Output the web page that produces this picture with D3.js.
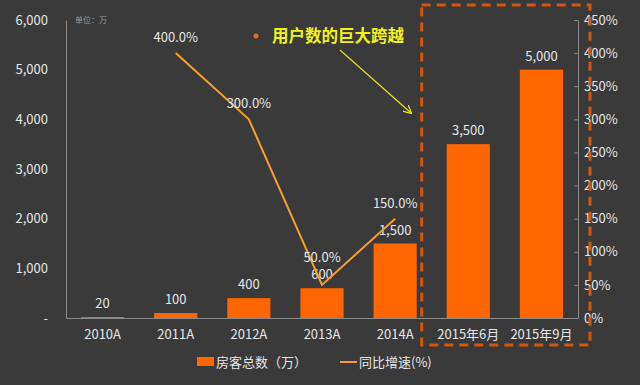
<!DOCTYPE html>
<html>
<head>
<meta charset="utf-8">
<script src="https://cdn.jsdelivr.net/npm/d3@7"></script>
<style>
  body { margin: 0; background: #3a3a3a; }
  text { font-family: "Noto Sans CJK SC", "Open Sans", sans-serif; }
</style>
</head>
<body>
<div id="chart"></div>
<script>
// data
const categories = ["2010A", "2011A", "2012A", "2013A", "2014A", "2015年6月", "2015年9月"];
const guests = [20, 100, 400, 600, 1500, 3500, 5000];
const growth = [null, 400, 300, 50, 150, null, null];
const leftTicks = [0, 1000, 2000, 3000, 4000, 5000, 6000];
const rightTicks = [0, 50, 100, 150, 200, 250, 300, 350, 400, 450];

const W = 640, H = 385;
const margin = {top: 20, right: 62, bottom: 67, left: 66},
      width = W - margin.left - margin.right,
      height = H - margin.top - margin.bottom;

const svg = d3.select("#chart").append("svg")
  .attr("width", W).attr("height", H)
  .style("background", "#3a3a3a");

const g = svg.append("g")
  .attr("transform", "translate(" + margin.left + "," + margin.top + ")");

const x = d3.scaleBand().domain(categories).range([0, width])
  .paddingInner(0.41).paddingOuter(0.205);
const y = d3.scaleLinear().domain([0, 6000]).range([height, 0]);
const y2 = d3.scaleLinear().domain([0, 450]).range([height, 0]);

const txt = "#e6e6e6", axisCol = "#8a8a8a";

// left axis
const left = g.append("g")
  .call(d3.axisLeft(y).tickValues(leftTicks).tickSize(0).tickPadding(18)
    .tickFormat(d => d === 0 ? "-" : d3.format(",")(d)));
left.select(".domain").attr("stroke", axisCol);
left.selectAll("text").attr("fill", txt).style("font-size", "13px");

// right axis
const right = g.append("g")
  .attr("transform", "translate(" + width + ",0)")
  .call(d3.axisRight(y2).tickValues(rightTicks).tickSizeInner(-4).tickSizeOuter(0).tickPadding(6)
    .tickFormat(d => d + "%"));
right.select(".domain").attr("stroke", axisCol);
right.selectAll("line").attr("stroke", axisCol);
right.selectAll("text").attr("fill", txt).style("font-size", "13px");

// bottom axis
const bottom = g.append("g")
  .attr("transform", "translate(0," + height + ")")
  .call(d3.axisBottom(x).tickSize(0).tickPadding(12));
bottom.select(".domain").attr("stroke", axisCol);
bottom.selectAll("text").attr("fill", txt).style("font-size", "13px");

// bars
g.selectAll(".bar").data(guests).enter().append("rect")
  .attr("x", (d, i) => x(categories[i]))
  .attr("width", x.bandwidth())
  .attr("y", d => y(d))
  .attr("height", d => height - y(d))
  .attr("fill", "#ff6600");

g.selectAll(".barlabel").data(guests).enter().append("text")
  .attr("x", (d, i) => x(categories[i]) + x.bandwidth() / 2)
  .attr("y", d => y(d) - 9)
  .attr("text-anchor", "middle")
  .attr("fill", txt).style("font-size", "13px")
  .text(d => d3.format(",")(d));

// growth line
const pts = growth.map((v, i) => ({c: categories[i], v})).filter(d => d.v !== null);
const cx = d => x(d.c) + x.bandwidth() / 2;
g.append("path").datum(pts)
  .attr("fill", "none").attr("stroke", "#f5a02c").attr("stroke-width", 2)
  .attr("d", d3.line().x(cx).y(d => y2(d.v)));

// the 2013A label is lifted above the bar label, as in the original
g.selectAll(".linelabel").data(pts).enter().append("text")
  .attr("x", cx)
  .attr("y", d => y2(d.v) - (d.c === "2013A" ? 23 : 11))
  .attr("text-anchor", "middle")
  .attr("fill", txt).style("font-size", "13px")
  .text(d => d.v.toFixed(1) + "%");

// unit note
g.append("text").attr("x", 9).attr("y", 3)
  .attr("fill", "#9a9a9a").style("font-size", "8px").text("单位：万");

// dashed highlight box
const bx0 = x("2015年6月") - x.step() * x.paddingInner() / 2 - 10;
g.append("rect")
  .attr("x", bx0).attr("y", -15)
  .attr("width", width + 12 - bx0).attr("height", height + 42)
  .attr("fill", "none").attr("stroke", "#d2580f")
  .attr("stroke-width", 3).attr("stroke-dasharray", "9,6");

// annotation
svg.append("circle").attr("cx", 256).attr("cy", 36).attr("r", 2.5).attr("fill", "#e0701a");
svg.append("text").attr("x", 272).attr("y", 42)
  .attr("fill", "#f2f21a").style("font-size", "16.5px").style("font-weight", "bold")
  .text("用户数的巨大跨越");
svg.append("defs").append("marker")
  .attr("id", "arr").attr("viewBox", "0 0 10 10").attr("refX", 9).attr("refY", 5)
  .attr("markerWidth", 7).attr("markerHeight", 7).attr("orient", "auto")
  .append("path").attr("d", "M0,0 L10,5 L0,10").attr("fill", "none").attr("stroke", "#e8e020").attr("stroke-width", 1.5);
svg.append("line").attr("x1", 340).attr("y1", 50).attr("x2", 411).attr("y2", 113)
  .attr("stroke", "#e8e020").attr("stroke-width", 1.2).attr("marker-end", "url(#arr)");

// legend
const lg = svg.append("g").attr("transform", "translate(197,362)");
lg.append("rect").attr("x", 0).attr("y", -5).attr("width", 17).attr("height", 9).attr("fill", "#ff6600");
lg.append("text").attr("x", 19).attr("y", 5).attr("fill", txt).style("font-size", "13px").text("房客总数（万）");
lg.append("line").attr("x1", 143).attr("x2", 160).attr("y1", 0).attr("y2", 0)
  .attr("stroke", "#f5a02c").attr("stroke-width", 2);
lg.append("text").attr("x", 162).attr("y", 5).attr("fill", txt).style("font-size", "13px").text("同比增速(%)");
</script>
</body>
</html>
